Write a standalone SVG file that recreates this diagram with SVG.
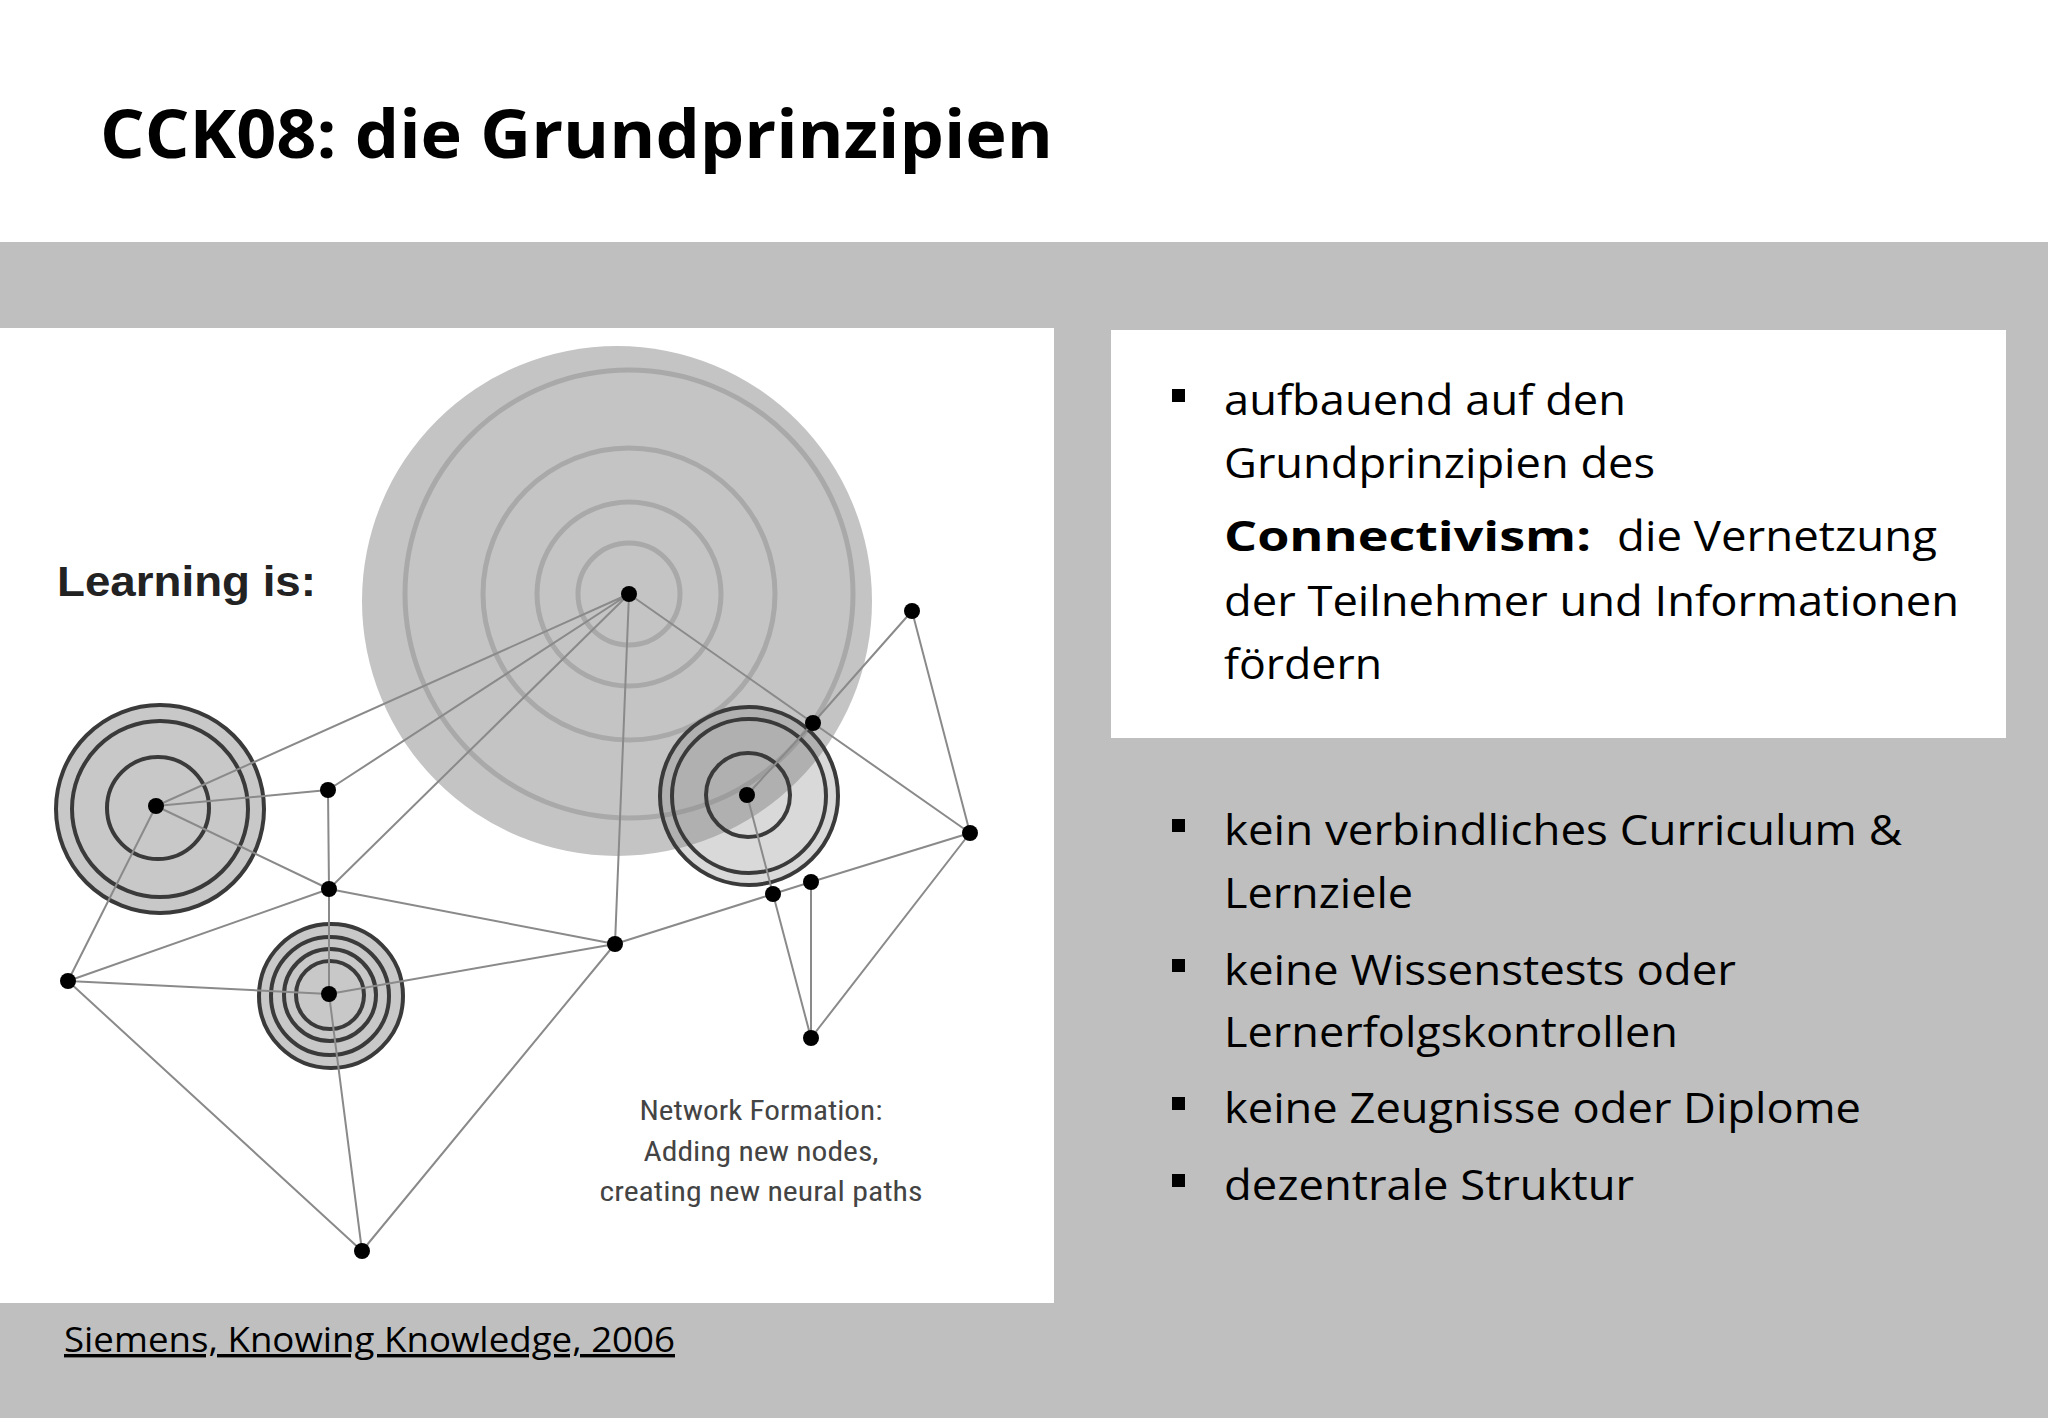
<svg xmlns="http://www.w3.org/2000/svg" width="2048" height="1418" viewBox="0 0 2048 1418">
<style>
.e{stroke:#8a8a8a;stroke-width:2;fill:none}
.n{fill:#000}
.ring{fill:none;stroke:#3a3a3a;stroke-width:4}
.bring{fill:none;stroke:#a9a9a9;stroke-width:5}
.t{font-family:"Open Sans",sans-serif;font-size:42px;fill:#000}
.b{fill:#000}
.cap{font-family:"Liberation Sans Narrow","Roboto Condensed","Liberation Sans",sans-serif;font-size:28px;fill:#444;text-anchor:middle}
</style>
<rect width="2048" height="1418" fill="#fff"/>
<rect y="242" width="2048" height="1176" fill="#bfbfbf"/>
<text x="100" y="158" font-family="Open Sans,sans-serif" font-weight="bold" font-size="66" textLength="953" lengthAdjust="spacingAndGlyphs">CCK08: die Grundprinzipien</text>
<rect x="0" y="328" width="1054" height="975" fill="#fff"/>
<g id="circles">
<circle cx="617" cy="601" r="255" fill="#c4c4c4"/>
<circle class="bring" cx="629" cy="594" r="51"/>
<circle class="bring" cx="629" cy="594" r="92"/>
<circle class="bring" cx="629" cy="594" r="146"/>
<circle class="bring" cx="629" cy="594" r="224"/>
<circle cx="160" cy="809" r="104" fill="#c8c8c8" stroke="#3a3a3a" stroke-width="4"/>
<circle class="ring" cx="160" cy="809" r="88"/>
<circle class="ring" cx="158" cy="808" r="51"/>
<circle cx="331" cy="996" r="72" fill="#c8c8c8" stroke="#3a3a3a" stroke-width="4"/>
<circle class="ring" cx="330" cy="996" r="59"/>
<circle class="ring" cx="330" cy="995" r="46"/>
<circle class="ring" cx="330" cy="995" r="34"/>
<circle cx="749" cy="796" r="89" fill="#808080" fill-opacity="0.3" stroke="#3a3a3a" stroke-width="4"/>
<circle class="ring" cx="749" cy="796" r="77"/>
<circle class="ring" cx="748" cy="795" r="42"/>
</g>
<g id="connectors">
<path class="e" d="M629 594L156 806M629 594L328 790M629 594L329 889M629 594L615 944M629 594L813 723M156 806L328 790M156 806L329 889M156 806L68 981M68 981L329 889M68 981L329 994M68 981L362 1251M328 790L329 889M329 889L329 994M329 889L615 944M329 994L615 944M329 994L362 1251M362 1251L615 944M615 944L773 894M773 894L811 882M811 882L970 833M813 723L912 611M912 611L970 833M813 723L970 833M747 795L813 723M747 795L773 894M773 894L811 1038M811 882L811 1038M811 1038L970 833"/>
</g>
<g id="nodes">
<circle class="n" cx="629" cy="594" r="8"/><circle class="n" cx="912" cy="611" r="8"/><circle class="n" cx="813" cy="723" r="8"/><circle class="n" cx="747" cy="795" r="8"/><circle class="n" cx="970" cy="833" r="8"/><circle class="n" cx="811" cy="882" r="8"/><circle class="n" cx="773" cy="894" r="8"/><circle class="n" cx="811" cy="1038" r="8"/><circle class="n" cx="615" cy="944" r="8"/><circle class="n" cx="328" cy="790" r="8"/><circle class="n" cx="329" cy="889" r="8"/><circle class="n" cx="156" cy="806" r="8"/><circle class="n" cx="68" cy="981" r="8"/><circle class="n" cx="329" cy="994" r="8"/><circle class="n" cx="362" cy="1251" r="8"/>
</g>
<text x="57" y="596" font-family="Liberation Sans,sans-serif" font-weight="bold" font-size="42" fill="#222" textLength="259" lengthAdjust="spacingAndGlyphs">Learning is:</text>
<text class="cap" x="761" y="1120" textLength="243" lengthAdjust="spacingAndGlyphs">Network Formation:</text>
<text class="cap" x="761" y="1161" textLength="235" lengthAdjust="spacingAndGlyphs">Adding new nodes,</text>
<text class="cap" x="761" y="1201" textLength="323" lengthAdjust="spacingAndGlyphs">creating new neural paths</text>
<rect x="1111" y="330" width="895" height="408" fill="#fff"/>
<g id="text">
<rect class="b" x="1172" y="389" width="13" height="13"/>
<text class="t" x="1224" y="415" textLength="402" lengthAdjust="spacingAndGlyphs">aufbauend auf den</text>
<text class="t" x="1224" y="478" textLength="431" lengthAdjust="spacingAndGlyphs">Grundprinzipien des</text>
<text class="t" x="1224" y="551" font-size="52" font-weight="bold" textLength="367" lengthAdjust="spacingAndGlyphs">Connectivism:</text>
<text class="t" x="1617" y="551" textLength="320" lengthAdjust="spacingAndGlyphs">die Vernetzung</text>
<text class="t" x="1224" y="616" textLength="735" lengthAdjust="spacingAndGlyphs">der Teilnehmer und Informationen</text>
<text class="t" x="1224" y="679" textLength="158" lengthAdjust="spacingAndGlyphs">fördern</text>
<rect class="b" x="1172" y="819" width="13" height="13"/>
<text class="t" x="1224" y="845" textLength="678" lengthAdjust="spacingAndGlyphs">kein verbindliches Curriculum &amp;</text>
<text class="t" x="1224" y="908" textLength="189" lengthAdjust="spacingAndGlyphs">Lernziele</text>
<rect class="b" x="1172" y="959" width="13" height="13"/>
<text class="t" x="1224" y="985" textLength="512" lengthAdjust="spacingAndGlyphs">keine Wissenstests oder</text>
<text class="t" x="1224" y="1047" textLength="454" lengthAdjust="spacingAndGlyphs">Lernerfolgskontrollen</text>
<rect class="b" x="1172" y="1097" width="13" height="13"/>
<text class="t" x="1224" y="1123" textLength="637" lengthAdjust="spacingAndGlyphs">keine Zeugnisse oder Diplome</text>
<rect class="b" x="1172" y="1174" width="13" height="13"/>
<text class="t" x="1224" y="1200" textLength="410" lengthAdjust="spacingAndGlyphs">dezentrale Struktur</text>
</g>
<text x="64" y="1352" font-family="Open Sans,sans-serif" font-size="34" text-decoration="underline" textLength="611" lengthAdjust="spacingAndGlyphs">Siemens, Knowing Knowledge, 2006</text>
</svg>
